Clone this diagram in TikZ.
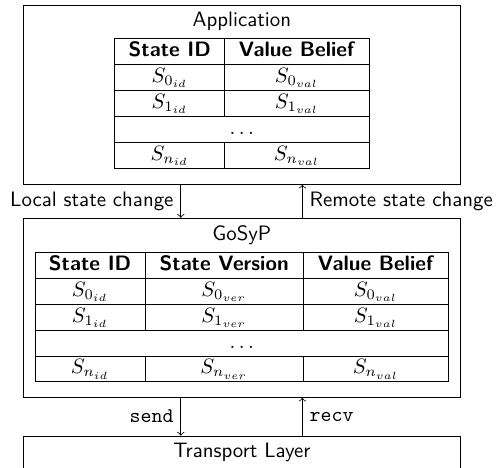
\documentclass[tikz,border=0pt]{standalone}
\usepackage{array}
\usetikzlibrary{positioning}

\begin{document}
\begin{tikzpicture}[font=\sffamily,
  layer/.style={draw,minimum width=7.36cm,minimum height=3.02cm},
  head/.style={anchor=north},
  tbl/.style={anchor=north,inner sep=0pt},
  ar/.style={->}]
\useasboundingbox (0,0) rectangle (8.40,-7.88);
\clip (0,0) rectangle (8.40,-7.88);
\node[layer,anchor=north] (app) at (4.08,-0.08) {};
\node[head] (apptitle) at (app.north) {Application};
\node[tbl] (apptab) at (apptitle.south) {%
  \begin{tabular}{|w{c}{40.5pt}|w{c}{56.8pt}|}\hline
  \textbf{State ID} & \textbf{Value Belief}\\\hline
  $S_{0_{id}}$ & $S_{0_{val}}$\\\hline
  $S_{1_{id}}$ & $S_{1_{val}}$\\\hline
  \multicolumn{2}{|c|}{$\dots$}\\\hline
  $S_{n_{id}}$ & $S_{n_{val}}$\\\hline
  \end{tabular}};
\node[layer,below=0.56cm of app] (gosyp) {};
\node[head] (gosyptitle) at (gosyp.north) {GoSyP};
\node[tbl] (gosyptab) at (gosyptitle.south) {%
  \begin{tabular}{|w{c}{40.5pt}|w{c}{63.4pt}|w{c}{57.5pt}|}\hline
  \textbf{State ID} & \textbf{State Version} & \textbf{Value Belief}\\\hline
  $S_{0_{id}}$ & $S_{0_{ver}}$ & $S_{0_{val}}$\\\hline
  $S_{1_{id}}$ & $S_{1_{ver}}$ & $S_{1_{val}}$\\\hline
  \multicolumn{3}{|c|}{$\dots$}\\\hline
  $S_{n_{id}}$ & $S_{n_{ver}}$ & $S_{n_{val}}$\\\hline
  \end{tabular}};
\node[layer,minimum height=1.2cm,below=0.64cm of gosyp] (trans) {};
\node[head] (transtitle) at (trans.north) {Transport Layer};
\draw[ar] ([xshift=-1.03cm]app.south) -- node[left]{Local state change} ([xshift=-1.03cm]gosyp.north);
\draw[ar] ([xshift=1.02cm]gosyp.north) -- node[right]{Remote state change} ([xshift=1.02cm]app.south);
\draw[ar] ([xshift=-1.03cm]gosyp.south) -- node[left]{\texttt{send}} ([xshift=-1.03cm]trans.north);
\draw[ar] ([xshift=1.02cm]trans.north) -- node[right]{\texttt{recv}} ([xshift=1.02cm]gosyp.south);
\end{tikzpicture}
\end{document}
